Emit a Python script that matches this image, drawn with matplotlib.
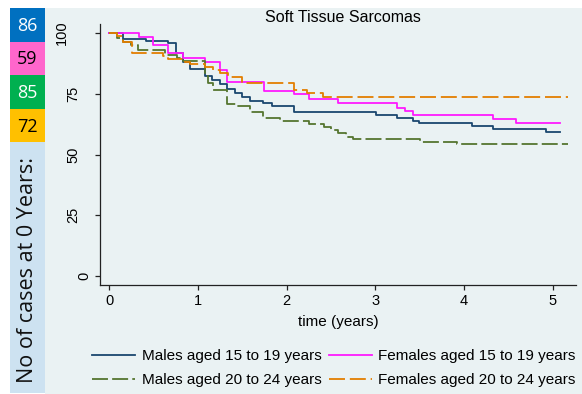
import matplotlib
matplotlib.use("Agg")
import matplotlib.pyplot as plt
from matplotlib.patches import Rectangle
from matplotlib.transforms import blended_transform_factory, offset_copy

# ---------------- data ----------------
title = "Soft Tissue Sarcomas"
xlabel = "time (years)"
xticks = [0, 1, 2, 3, 4, 5]
yticks = [0, 25, 50, 75, 100]

labels = ["Males aged 15 to 19 years", "Females aged 15 to 19 years",
          "Males aged 20 to 24 years", "Females aged 20 to 24 years"]
cases_at_0 = [86, 59, 85, 72]
cases_title = "No of cases at 0 Years:"

m1519_t = [0, 0.158, 0.410, 0.665, 0.752, 0.834, 0.910, 1.079, 1.158, 1.248, 1.324,
           1.412, 1.496, 1.581, 1.736, 1.831, 2.082, 3.007, 3.247, 3.420, 3.495,
           4.086, 4.329, 4.923, 5.081]
m1519_s = [100, 97.7, 96.7, 95.7, 91.8, 88.1, 85.0, 82.5, 80.5, 79.2, 76.8,
           75.3, 73.5, 72.1, 71.2, 70.0, 67.5, 66.3, 65.1, 63.9, 62.8,
           61.7, 60.5, 59.4, 59.4]

f1519_t = [0, 0.338, 0.496, 0.665, 0.834, 1.079, 1.248, 1.330, 1.744, 2.082, 2.255,
           2.582, 3.247, 3.334, 3.420, 4.329, 4.585, 5.081]
f1519_s = [100, 98.5, 95.1, 91.6, 89.8, 88.2, 84.8, 79.8, 76.3, 74.7, 72.7,
           71.3, 69.3, 67.9, 66.3, 64.5, 62.8, 62.8]

m2024_t = [0, 0.083, 0.158, 0.245, 0.320, 0.628, 0.760, 0.834, 1.079, 1.113, 1.169,
           1.324, 1.436, 1.586, 1.736, 1.924, 2.255, 2.424, 2.499, 2.582, 2.669,
           2.747, 3.503, 3.917, 5.171]
m2024_s = [100, 97.9, 96.3, 95.1, 93.0, 91.0, 89.7, 88.3, 82.3, 79.3, 76.5,
           70.8, 69.8, 67.4, 64.9, 63.6, 62.4, 61.2, 59.9, 58.7, 57.3,
           56.3, 55.3, 54.2, 54.2]

f2024_t = [0, 0.083, 0.158, 0.253, 0.609, 0.665, 0.842, 0.910, 1.079, 1.166, 1.248,
           1.342, 1.493, 2.082, 2.225, 2.413, 5.171]
f2024_s = [100, 98.8, 96.4, 91.9, 90.5, 89.3, 88.1, 87.1, 86.0, 84.8, 83.4,
           82.0, 79.4, 76.5, 75.2, 73.8, 73.8]

# ---------------- style ----------------
W, H = 582, 394
BG = "#EAF2F3"
navy = "#1a476f"
magenta = "#ff1aff"
green = "#55752f"
orange = "#e37e00"
box_colors = ["#0070C0", "#FF66CC", "#00B050", "#FFC000"]
box_text = ["white", "black", "white", "black"]

plt.rcParams["font.family"] = ["Liberation Sans", "DejaVu Sans"]
plt.rcParams["lines.scale_dashes"] = False

fig = plt.figure(figsize=(W / 100, H / 100), dpi=100, facecolor="white")


def fx(px):
    return px / W


def fy(py):
    return 1 - py / H


# chart background
fig.add_artist(Rectangle((fx(45), 0), fx(W - 45), fy(8), transform=fig.transFigure,
                         facecolor=BG, edgecolor="none", zorder=0))

# left panel
box_edges = [8, 42, 75, 109, 142]
for i, (n, c, tc) in enumerate(zip(cases_at_0, box_colors, box_text)):
    y0, y1 = box_edges[i], box_edges[i + 1]
    fig.add_artist(Rectangle((fx(10), fy(y1)), fx(35), (y1 - y0) / H,
                             transform=fig.transFigure, facecolor=c,
                             edgecolor="none", zorder=1))
    fig.text(fx(27.5), fy((y0 + y1) / 2 + 1), str(n), color=tc, fontsize=13,
             family=["Open Sans", "DejaVu Sans"], ha="center", va="center", zorder=2)
fig.add_artist(Rectangle((fx(10), fy(393)), fx(35), (393 - 142) / H,
                         transform=fig.transFigure, facecolor="#CDE2F1",
                         edgecolor="none", zorder=1))
fig.text(fx(28), fy(270), cases_title, rotation=90, fontsize=15.5,
         family=["Open Sans", "DejaVu Sans"], ha="center", va="center",
         color="#111111", zorder=2)

# axes
ax = fig.add_axes([fx(100), fy(285), fx(576 - 100), (285 - 24) / H])
ax.set_facecolor(BG)
ax.set_zorder(3)

lw = 1.3
l1, = ax.plot(m1519_t, m1519_s, drawstyle="steps-post", color=navy, lw=lw)
l2, = ax.plot(f1519_t, f1519_s, drawstyle="steps-post", color=magenta, lw=lw)
l3, = ax.plot(m2024_t, m2024_s, drawstyle="steps-post", color=green, lw=lw,
              dashes=(11.5, 3.0))
l4, = ax.plot(f2024_t, f2024_s, drawstyle="steps-post", color=orange, lw=lw,
              dashes=(11.5, 3.5))

ax.set_xlim(-0.105, 5.262)
ax.set_ylim(-3.7, 103.7)
for s in ["top", "right"]:
    ax.spines[s].set_visible(False)
for s in ["left", "bottom"]:
    ax.spines[s].set_linewidth(0.9)
    ax.spines[s].set_color("#222222")

ax.set_xticks(xticks)
ax.set_xticklabels([str(v) for v in xticks], fontsize=10.5)
ax.set_yticks(yticks)
ax.set_yticklabels([])
ax.tick_params(axis="both", direction="out", length=3.8, width=0.9,
               color="#222222", pad=3.0)

trans = blended_transform_factory(ax.transAxes, ax.transData)
for v in yticks:
    s = str(v)
    dx = -(16 + (len(s) - 1) * 11)
    t = offset_copy(trans, fig=fig, x=dx, y=0, units="dots")
    ax.text(0, v, s, transform=t, rotation=90, ha="center", va="center",
            fontsize=10.5, clip_on=False)

ax.set_xlabel(xlabel, fontsize=11, labelpad=4.5)
fig.text(fx(343), fy(17), title, fontsize=11.5, ha="center", va="center")

leg = fig.legend([l1, l3, l2, l4], [labels[0], labels[2], labels[1], labels[3]],
                 ncol=2, loc="center", bbox_to_anchor=(fx(334), fy(368)),
                 frameon=False, fontsize=11, handlelength=2.8,
                 handletextpad=0.42, columnspacing=0.5, labelspacing=0.65,
                 borderpad=0, borderaxespad=0)

fig.savefig("out.png", dpi=100, facecolor="white")
